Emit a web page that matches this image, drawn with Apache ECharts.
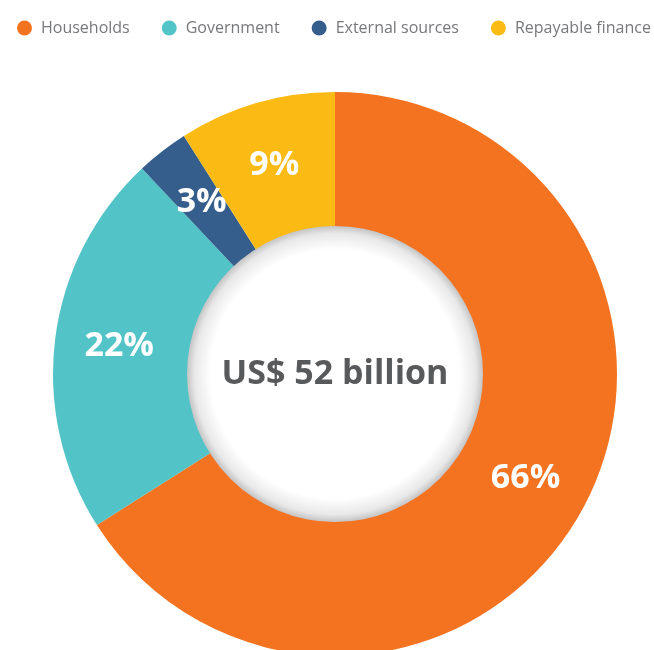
<!DOCTYPE html>
<html>
<head>
<meta charset="utf-8">
<script src="https://cdn.jsdelivr.net/npm/echarts@6/dist/echarts.min.js"></script>
<style>
  html, body { margin: 0; padding: 0; background: #fff; }
  #chart { width: 654px; height: 650px; }
</style>
</head>
<body>
<div id="chart"></div>
<script>
// 数据
var categories = ['Households', 'Government', 'External sources', 'Repayable finance']
var shares = [66, 22, 3, 9]
var colors = ['#f47321', '#52c3c6', '#355e8c', '#fcbb14']
var totalLabel = 'US$ 52 billion'

var chart = echarts.init(document.getElementById('chart'))

var option = {
  color: colors,
  legend: {
    data: categories,
    left: 12,
    top: 15,
    width: 700,
    icon: 'circle',
    itemWidth: 15,
    itemHeight: 15,
    itemGap: 32,
    textStyle: {
      color: '#77787b',
      fontFamily: 'Open Sans',
      fontSize: 16,
      padding: [0, 0, 0, 4],
    },
  },
  series: [
    {
      type: 'pie',
      center: [335, 374],
      radius: [147, 282],
      startAngle: 90,
      clockwise: true,
      silent: true,
      label: {
        position: 'inside',
        formatter: '{c}%',
        color: '#fff',
        fontFamily: 'Open Sans',
        fontWeight: 'bold',
        fontSize: 34,
      },
      labelLine: { show: false },
      data: categories.map(function (name, i) {
        return { name: name, value: shares[i] }
      }),
    },
    {
      // 中间白色圆
      type: 'pie',
      center: [335, 374],
      radius: [0, 148],
      silent: true,
      itemStyle: {
        color: {
          type: 'radial',
          x: 0.5, y: 0.5, r: 0.5,
          colorStops: [
            { offset: 0, color: '#ffffff' },
            { offset: 0.84, color: '#ffffff' },
            { offset: 0.95, color: '#e8e8e8' },
            { offset: 1, color: '#c4c4c4' },
          ],
        },
      },
      label: {
        position: 'center',
        formatter: totalLabel,
        color: '#58595b',
        fontFamily: 'Open Sans',
        fontWeight: 'bold',
        fontSize: 34,
        padding: [4, 0, 0, 0],
      },
      labelLine: { show: false },
      data: [{ name: 'total', value: 1 }],
    },
  ],
}

chart.setOption(option)
</script>
</body>
</html>
